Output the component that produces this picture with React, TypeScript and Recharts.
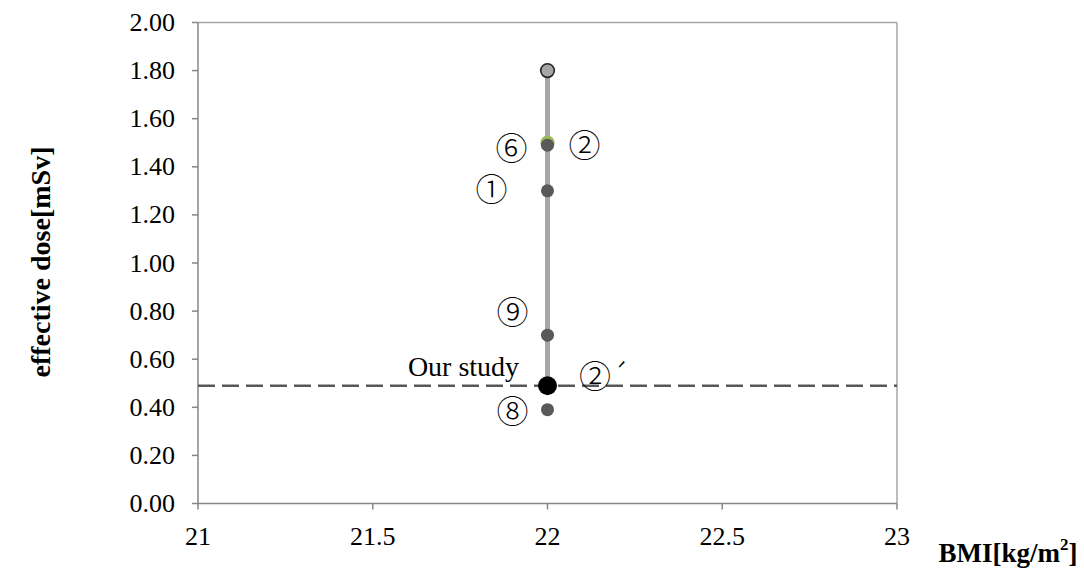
import React from 'react';
import { ScatterChart, Scatter, XAxis, YAxis, ReferenceLine } from 'recharts';

// ---- data ----
const BMI_VALUE = 22;
const xTicks = [21, 21.5, 22, 22.5, 23];
const yTicks = [0, 0.2, 0.4, 0.6, 0.8, 1.0, 1.2, 1.4, 1.6, 1.8, 2.0];

const maxDose = 1.8;           // upper end of the range (light gray marker)
const ourStudyDose = 0.49;     // our study (black marker, dashed reference)
const greenStudyDose = 1.5;    // study ②
const otherStudyNames = ['⑥', '①', '⑨', '⑧'];
const otherStudyDoses = [1.49, 1.3, 0.7, 0.39];

const labelTexts = ['⑥', '②', '①', '⑨', 'Our study', '②´', '⑧'];
const labelDoses = [1.49, 1.5, 1.3, 0.7, 0.49, 0.49, 0.39];

// ---- styles ----
const SERIF = '"Liberation Serif", serif';
const CJK = '"Noto Sans CJK JP"';
const labelOffsets: Record<string, { dx: number; dy: number; size: number; font: string }> = {
  '⑥': { dx: -36, dy: 1, size: 32, font: CJK },
  '②': { dx: 37, dy: 0, size: 32, font: CJK },
  '①': { dx: -56, dy: -4, size: 32, font: CJK },
  '⑨': { dx: -35, dy: -25, size: 32, font: CJK },
  'Our study': { dx: -84, dy: -19, size: 28, font: SERIF },
  '②´': { dx: 57, dy: -12, size: 32, font: CJK },
  '⑧': { dx: -35, dy: -1, size: 32, font: CJK },
};

const rangeData = [
  { bmi: BMI_VALUE, dose: maxDose },
  { bmi: BMI_VALUE, dose: ourStudyDose },
];
const dashData = [
  { bmi: xTicks[0], dose: ourStudyDose },
  { bmi: xTicks[xTicks.length - 1], dose: ourStudyDose },
];
const maxData = [{ bmi: BMI_VALUE, dose: maxDose }];
const greenData = [{ bmi: BMI_VALUE, dose: greenStudyDose }];
const otherData = otherStudyNames.map((n, i) => ({ bmi: BMI_VALUE, dose: otherStudyDoses[i], name: n }));
const ourData = [{ bmi: BMI_VALUE, dose: ourStudyDose }];
const labelData = labelTexts.map((t, i) => ({ bmi: BMI_VALUE, dose: labelDoses[i], text: t }));

const Empty = () => <g />;

const dot = (r: number, fill: string, stroke?: string, sw?: number) => (props: any) => {
  const { cx, cy } = props;
  if (cx == null || cy == null) return <g />;
  return <circle cx={cx} cy={cy} r={r} fill={fill} stroke={stroke || 'none'} strokeWidth={sw || 0} />;
};

const LabelShape = (props: any) => {
  const { cx, cy, payload } = props;
  if (cx == null || cy == null) return <g />;
  const o = labelOffsets[payload.text];
  return (
    <text
      x={cx + o.dx}
      y={cy + o.dy}
      textAnchor="middle"
      dominantBaseline="central"
      fontSize={o.size}
      fontFamily={o.font}
      fontWeight={o.font === CJK ? 300 : 400}
      fill="#000"
    >
      {payload.text}
    </text>
  );
};

const XTick = (props: any) => {
  const { x, y, payload } = props;
  return (
    <text x={x} y={y} dy={18} textAnchor="middle" fontSize={26} fontFamily={SERIF} fill="#000">
      {String(payload.value)}
    </text>
  );
};

const YTick = (props: any) => {
  const { x, y, payload } = props;
  return (
    <text x={x} y={y} textAnchor="end" dominantBaseline="central" fontSize={26} fontFamily={SERIF} fill="#000">
      {Number(payload.value).toFixed(2)}
    </text>
  );
};

export default function App() {
  return (
    <div style={{ position: 'absolute', left: 0, top: 0, width: 1084, height: 570, background: '#fff' }}>
      <ScatterChart width={1084} height={570} margin={{ top: 22.5, right: 187, left: 0, bottom: 26.5 }}>
        <XAxis
          type="number"
          dataKey="bmi"
          domain={[21, 23]}
          ticks={xTicks}
          height={40}
          tickSize={6}
          tickMargin={17}
          stroke="#868686"
          strokeWidth={1.5}
          tick={<XTick />}
          allowDataOverflow
        />
        <YAxis
          type="number"
          dataKey="dose"
          domain={[0, 2]}
          ticks={yTicks}
          width={198}
          tickSize={6}
          tickMargin={17}
          stroke="#868686"
          strokeWidth={1.5}
          tick={<YTick />}
          allowDataOverflow
        />
        <ReferenceLine y={2} stroke="#a6a6a6" strokeWidth={1.5} />
        <ReferenceLine x={23} stroke="#a6a6a6" strokeWidth={1.5} />
        <Scatter data={rangeData} line={{ stroke: '#a6a6a6', strokeWidth: 5 }} shape={Empty} isAnimationActive={false} />
        <Scatter data={dashData} line={{ stroke: '#595959', strokeWidth: 2.5, strokeDasharray: '17 7' }} shape={Empty} isAnimationActive={false} />
        <Scatter data={greenData} shape={dot(7.2, '#9bbb59')} isAnimationActive={false} />
        <Scatter data={otherData} shape={dot(6.5, '#595959')} isAnimationActive={false} />
        <Scatter data={maxData} shape={dot(6.8, '#a6a6a6', '#262626', 1.6)} isAnimationActive={false} />
        <Scatter data={ourData} shape={dot(9.5, '#000')} isAnimationActive={false} />
        <Scatter data={labelData} shape={LabelShape} isAnimationActive={false} />
        <text x={40} y={262} transform="rotate(-90 40 262)" textAnchor="middle" dominantBaseline="central"
          fontSize={28} fontWeight="bold" fontFamily={SERIF} fill="#000">
          effective dose[mSv]
        </text>
        <text x={1008} y={553} textAnchor="middle" dominantBaseline="central"
          fontSize={27} fontWeight="bold" fontFamily={SERIF} fill="#000">
          BMI[kg/m<tspan fontSize={17} dy={-9}>2</tspan><tspan dy={9}>]</tspan>
        </text>
      </ScatterChart>
    </div>
  );
}
